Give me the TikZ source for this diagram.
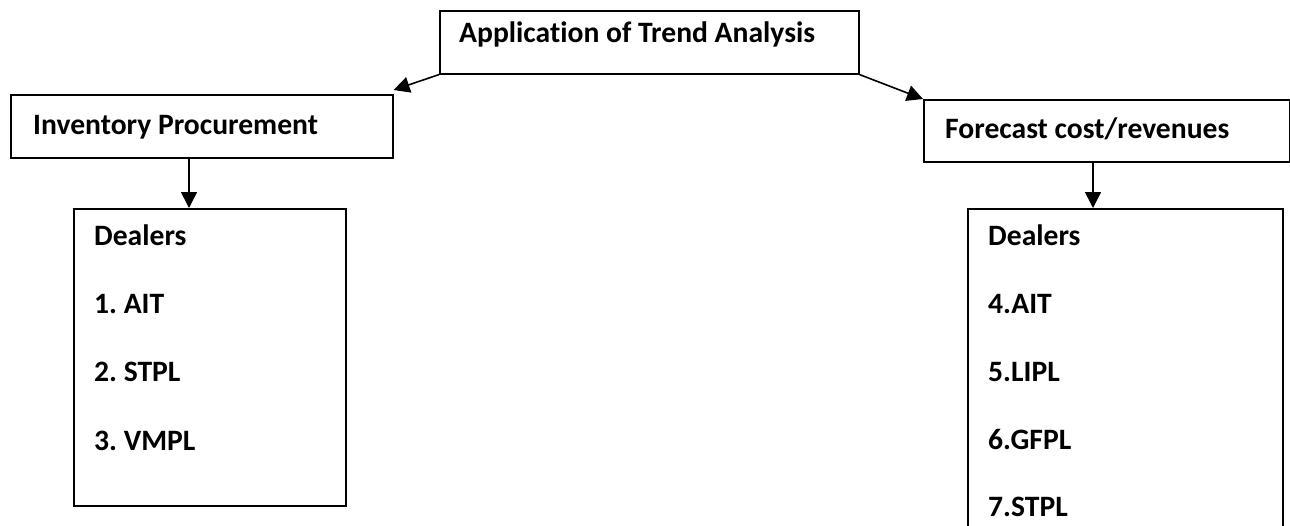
\documentclass[tikz,border=0pt]{standalone}
\usepackage{fontspec}
\setmainfont{Carlito}[Ligatures=NoCommon]
\usetikzlibrary{arrows.meta}
\frenchspacing
\begin{document}
\begin{tikzpicture}[x=1pt,y=-1pt,
  frame/.style={draw=black, line width=1.6pt, inner sep=0pt, anchor=north west},
  txt/.style={inner sep=0pt, anchor=base west, font=\fontsize{29.6}{35}\selectfont\bfseries},
  arr/.style={line width=1.6pt, -{Triangle[length=16pt,width=16pt]}}]
  \useasboundingbox (0,0) rectangle (1290,525);
  \clip (0,0) rectangle (1290,525);

  % boxes
  \node[frame, minimum width=419pt, minimum height=63pt] (top) at (439,10) {};
  \node[frame, minimum width=382pt, minimum height=63pt] (inv) at (10,94) {};
  \node[frame, minimum width=366pt, minimum height=62pt] (fc) at (923,99) {};
  \node[frame, minimum width=272pt, minimum height=297pt] (dl) at (73,208) {};
  \node[frame, minimum width=315pt, minimum height=340pt] (dr) at (967,208) {};

  % headings
  \node[txt] (toptext) at (459,42) {Application of Trend Analysis};
  \node[txt] (invtext) at (33,134) {Inventory Procurement};
  \node[txt] (fctext) at (945,138) {Forecast cost/revenues};

  % left dealer list
  \node[txt] (l0) at (94,245) {Dealers};
  \node[txt] (l1) at (94,313) {1. AIT};
  \node[txt] (l2) at (94,381) {2. STPL};
  \node[txt] (l3) at (94,450) {3. VMPL};

  % right dealer list
  \node[txt] (r0) at (988,245) {Dealers};
  \node[txt] (r1) at (988,313) {4.AIT};
  \node[txt] (r2) at (988,381) {5.LIPL};
  \node[txt] (r3) at (988,449) {6.GFPL};
  \node[txt] (r4) at (988,516) {7.STPL};

  % connectors
  \coordinate (xl) at (189,0);
  \coordinate (xr) at (1093,0);
  \draw[arr] (top.south west) -- ([yshift=4pt]inv.north east);
  \draw[arr] (top.south east) -- (fc.north west);
  \draw[arr] (inv.south -| xl) -- (dl.north -| xl);
  \draw[arr] (fc.south -| xr) -- (dr.north -| xr);
\end{tikzpicture}
\end{document}
